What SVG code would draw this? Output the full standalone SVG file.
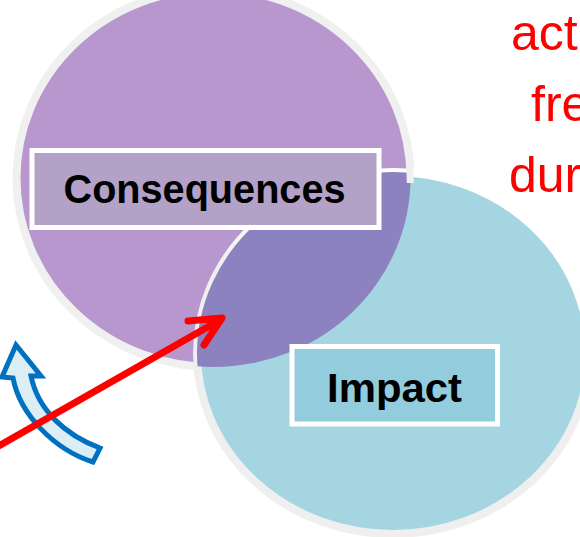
<svg xmlns="http://www.w3.org/2000/svg" width="580" height="537" viewBox="0 0 580 537">
  <defs>
    <style>
      .label { font-family: "Liberation Sans", Arial, sans-serif; font-weight: bold; font-size: 41px; fill: #000; text-anchor: middle; }
      .note { font-family: "Liberation Sans", Arial, sans-serif; font-size: 50px; fill: #FF0000; }
      .box { stroke: #FFFFFF; stroke-width: 5; }
    </style>
    <linearGradient id="rimBlue" gradientUnits="userSpaceOnUse" x1="540" y1="200" x2="470" y2="420">
      <stop offset="0.3" stop-color="#FFFFFF"/>
      <stop offset="0.7" stop-color="#EFEFEF"/>
    </linearGradient>
    <clipPath id="blueArea">
      <ellipse cx="393" cy="353" rx="196" ry="181"/>
    </clipPath>
  </defs>

  <rect width="580" height="537" fill="#FFFFFF"/>

  <!-- red side notes, running off the right edge -->
  <g id="notes">
    <text class="note" x="511" y="50">act</text>
    <text class="note" x="531" y="121">fre</text>
    <text class="note" x="509" y="192">dur</text>
  </g>

  <!-- consequences circle -->
  <g id="consequences-circle">
    <ellipse cx="213.5" cy="178" rx="197" ry="189" fill="#B797CE" stroke="#F0F0F0" stroke-width="8"/>
  </g>

  <!-- impact circle -->
  <g id="impact-circle">
    <ellipse cx="393" cy="353" rx="196" ry="181" fill="#A6D5E2" stroke="url(#rimBlue)" stroke-width="8"/>
  </g>

  <!-- overlap of the two circles -->
  <g id="overlap">
    <ellipse cx="213.5" cy="178" rx="197" ry="189" fill="#8B82BF" clip-path="url(#blueArea)"/>
    <!-- short piece of the purple rim left showing where the circles meet at the top -->
    <path d="M409.5,160 L410.3,183" fill="none" stroke="#F0F0F0" stroke-width="7"/>
  </g>

  <g id="consequences">
    <rect class="box" x="32" y="150.5" width="347" height="77" fill="#B3A1C8"/>
    <text class="label" x="204.5" y="203" textLength="282" lengthAdjust="spacingAndGlyphs">Consequences</text>
  </g>

  <g id="impact">
    <rect class="box" x="292" y="346.5" width="205.5" height="77.5" fill="#93CDDD"/>
    <text class="label" x="394.5" y="401.5" textLength="135" lengthAdjust="spacingAndGlyphs">Impact</text>
  </g>

  <!-- curved feedback arrow -->
  <g id="curved-arrow">
    <path d="M16,345 L41,376 L31,376 C38,410 65,435 100,448 L93,462 C55,450 20,415 13,378 L2,377 Z"
          fill="#DAEEF3" stroke="#0070C0" stroke-width="5" stroke-linejoin="miter"/>
  </g>

  <!-- connectors -->
  <g id="connectors" fill="none" stroke="#FF0000" stroke-width="7" stroke-linecap="round" stroke-linejoin="round">
    <line x1="-10" y1="451" x2="220" y2="320"/>
    <polyline points="188,321 222,318 204,345"/>
  </g>
</svg>
